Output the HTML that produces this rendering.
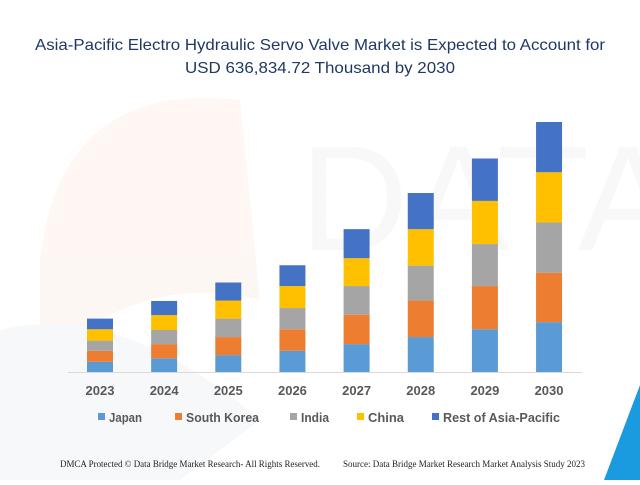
<!DOCTYPE html>
<html><head><meta charset="utf-8"><style>
body{margin:0;width:640px;height:480px;background:#fff;overflow:hidden;font-family:"Liberation Sans",sans-serif}
</style></head><body>
<svg width="640" height="480" xmlns="http://www.w3.org/2000/svg">
<g opacity="0.5">
<path d="M40 260 Q60 80 240 100 L260 300 Q150 270 40 360 Z" fill="#fdf0ea"/>
<path d="M0 330 Q120 300 260 420 L180 480 L0 480 Z" fill="#eef2f6"/>
<text x="300" y="250" font-size="150" fill="#f3f3f3" font-family="Liberation Sans">DATABR</text>
</g>
<path d="M640 385 L640 480 L604 480 Z" fill="#1a9be0"/>
<text x="35" y="50" textLength="570" lengthAdjust="spacingAndGlyphs" font-size="16" fill="#1F3864">Asia-Pacific Electro Hydraulic Servo Valve Market is Expected to Account for</text>
<text x="185" y="73" textLength="270" lengthAdjust="spacingAndGlyphs" font-size="16" fill="#1F3864">USD 636,834.72 Thousand by 2030</text>
<line x1="68" y1="372.5" x2="582" y2="372.5" stroke="#d9d9d9"/>
<g id="bars"></g>
<g id="xlabels"></g>
<g id="legend"></g>
<text x="60" y="467" textLength="260" lengthAdjust="spacingAndGlyphs" font-size="9" font-family="Liberation Serif" fill="#222">DMCA Protected © Data Bridge Market Research-  All Rights Reserved.</text>
<text x="343" y="467" textLength="242" lengthAdjust="spacingAndGlyphs" font-size="9" font-family="Liberation Serif" fill="#222">Source: Data Bridge Market Research  Market Analysis Study 2023</text>
</svg>
<script>
const years=["2023","2024","2025","2026","2027","2028","2029","2030"];
const seriesNames=["Japan","South Korea","India","China","Rest of Asia-Pacific"];
const japan=[26,35,43,54,71,89,109,127];
const southKorea=[28,36,46,55,75,93,110,126];
const india=[26,36,47,54,73,89,107,128];
const china=[29,38,46,56,71,93,110,128];
const restOfAPAC=[27,36,46,53,74,92,108,128];
const series=[japan,southKorea,india,china,restOfAPAC];
const colors=["#5B9BD5","#ED7D31","#A5A5A5","#FFC000","#4472C4"];
const NS="http://www.w3.org/2000/svg";
const base=372,scale=250/637;
const x=i=>100+i*64.15;
const y=v=>base-v*scale;
const bars=document.getElementById('bars');
years.forEach((yr,i)=>{
  let cum=0;
  series.forEach((s,k)=>{
    const r=document.createElementNS(NS,'rect');
    r.setAttribute('x',x(i)-13);r.setAttribute('width',26);
    r.setAttribute('y',y(cum+s[i]));r.setAttribute('height',s[i]*scale);
    r.setAttribute('fill',colors[k]);
    
    
    bars.appendChild(r);cum+=s[i];
  });
  const t=document.createElementNS(NS,'text');
  t.setAttribute('x',x(i));t.setAttribute('y',395);t.setAttribute('text-anchor','middle');
  t.setAttribute('font-size','13');t.setAttribute('font-weight','bold');t.setAttribute('fill','#595959');
  t.textContent=yr;
  
  
  document.getElementById('xlabels').appendChild(t);
});
const lx=[98,175,290,357,432];
const lw=[33,73,28,36,117];
const lg=document.getElementById('legend');
seriesNames.forEach((n,k)=>{
  const g=document.createElementNS(NS,'g');
  
  
  const r=document.createElementNS(NS,'rect');
  r.setAttribute('x',lx[k]);r.setAttribute('y',413);r.setAttribute('width',7);r.setAttribute('height',7);r.setAttribute('fill',colors[k]);
  const t=document.createElementNS(NS,'text');
  t.setAttribute('x',lx[k]+11);t.setAttribute('y',422);t.setAttribute('font-size','13');t.setAttribute('font-weight','bold');t.setAttribute('fill','#595959');
  t.setAttribute('textLength',lw[k]);t.setAttribute('lengthAdjust','spacingAndGlyphs');
  t.textContent=n;
  g.appendChild(r);g.appendChild(t);lg.appendChild(g);
});
</script>
</body></html>
